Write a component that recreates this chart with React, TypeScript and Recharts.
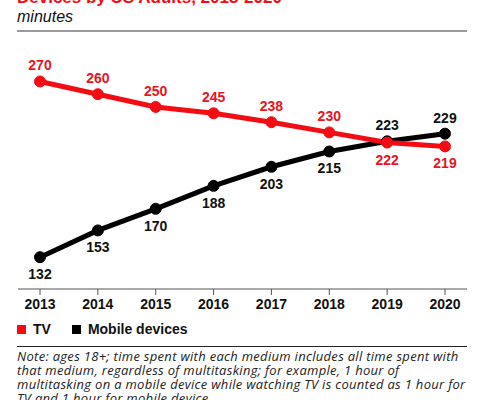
import { LineChart, Line, XAxis, YAxis, LabelList } from "recharts";

const years = ["2013", "2014", "2015", "2016", "2017", "2018", "2019", "2020"];
const tvMinutes = [270, 260, 250, 245, 238, 230, 222, 219];
const mobileMinutes = [132, 153, 170, 188, 203, 215, 223, 229];
const seriesNames = ["TV", "Mobile devices"];

const RED = "#f20d14";
const BLACK = "#000000";
const FONT = "'Liberation Sans', Arial, sans-serif";

const data = years.map((year, i) => ({
  year,
  tv: tvMinutes[i],
  mobile: mobileMinutes[i],
}));

// label goes above the point when this series is the higher one that year
const makeLabel = (key: "tv" | "mobile", color: string) => (props: any) => {
  const { x, y, index, value } = props;
  const row = data[index];
  const other = key === "tv" ? row.mobile : row.tv;
  const above = value >= other;
  return (
    <text
      x={x}
      y={above ? y - 11 : y + 22}
      textAnchor="middle"
      fill={color}
      fontSize={14}
      fontWeight="bold"
      fontFamily={FONT}
    >
      {value}
    </text>
  );
};

const App = () => {
  return (
    <div
      style={{
        position: "absolute",
        left: 0,
        top: 0,
        width: 478,
        height: 400,
        overflow: "hidden",
        background: "#fff",
        fontFamily: FONT,
      }}
    >
      <div
        style={{
          position: "absolute",
          left: 17,
          top: -12,
          fontSize: 17,
          lineHeight: "20px",
          fontWeight: "bold",
          color: RED,
          whiteSpace: "nowrap",
        }}
      >
        Devices by US Adults, 2013-2020
      </div>
      <div
        style={{
          position: "absolute",
          left: 17,
          top: 8,
          fontSize: 16,
          lineHeight: "18px",
          fontStyle: "italic",
          color: "#111",
        }}
      >
        minutes
      </div>
      <div
        style={{
          position: "absolute",
          left: 17,
          top: 30,
          width: 450,
          height: 2,
          background: "#9a9a9a",
        }}
      />

      <div style={{ position: "absolute", left: 0, top: 0 }}>
        <LineChart
          width={478}
          height={320}
          data={data}
          margin={{ top: 56, right: 11, bottom: 0, left: 18 }}
        >
          <XAxis
            dataKey="year"
            interval={0}
            height={31}
            padding={{ left: 22, right: 22 }}
            axisLine={{ stroke: "#555", strokeWidth: 1 }}
            tickLine={{ stroke: "#555", strokeWidth: 1 }}
            tickSize={6}
            tickMargin={4}
            tick={{ fill: "#111", fontSize: 14, fontWeight: "bold", fontFamily: FONT }}
          />
          <YAxis hide domain={[107, 290]} />
          <Line
            dataKey="mobile"
            name={seriesNames[1]}
            stroke={BLACK}
            strokeWidth={5}
            dot={{ r: 5.5, fill: BLACK, stroke: BLACK, strokeWidth: 1 }}
            isAnimationActive={false}
          >
            <LabelList dataKey="mobile" content={makeLabel("mobile", "#111")} />
          </Line>
          <Line
            dataKey="tv"
            name={seriesNames[0]}
            stroke={RED}
            strokeWidth={5}
            dot={{ r: 5.5, fill: RED, stroke: RED, strokeWidth: 1 }}
            isAnimationActive={false}
          >
            <LabelList dataKey="tv" content={makeLabel("tv", "#e8141e")} />
          </Line>
        </LineChart>
      </div>

      <div
        style={{
          position: "absolute",
          left: 17,
          top: 321,
          display: "flex",
          alignItems: "center",
          fontSize: 14,
          fontWeight: "bold",
          color: "#111",
          lineHeight: "16px",
        }}
      >
        <span style={{ width: 9, height: 9, background: RED, display: "inline-block", marginRight: 7 }} />
        <span style={{ marginRight: 21 }}>{seriesNames[0]}</span>
        <span style={{ width: 9, height: 9, background: BLACK, display: "inline-block", marginRight: 7 }} />
        <span>{seriesNames[1]}</span>
      </div>

      <div
        style={{
          position: "absolute",
          left: 17,
          top: 346,
          width: 450,
          height: 1,
          background: "#222",
        }}
      />
      <div
        style={{
          position: "absolute",
          left: 17,
          top: 349,
          fontSize: 13,
          lineHeight: "14px",
          letterSpacing: 0.3,
          fontStyle: "italic",
          fontFamily: "'Open Sans', sans-serif",
          color: "#222",
          whiteSpace: "nowrap",
        }}
      >
        <div>Note: ages 18+; time spent with each medium includes all time spent with</div>
        <div>that medium, regardless of multitasking; for example, 1 hour of</div>
        <div>multitasking on a mobile device while watching TV is counted as 1 hour for</div>
        <div>TV and 1 hour for mobile device</div>
      </div>
    </div>
  );
};

export default App;
